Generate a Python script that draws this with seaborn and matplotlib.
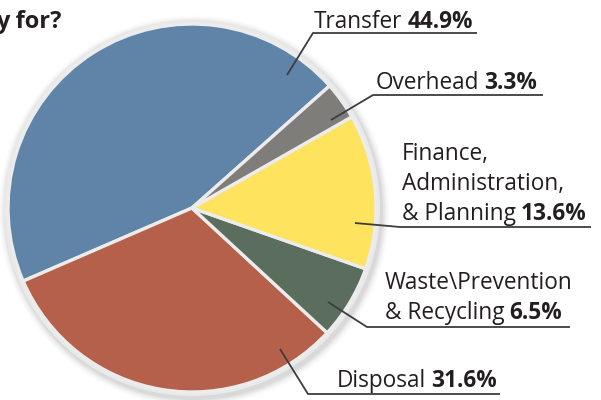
import matplotlib.pyplot as plt
from matplotlib.patches import Circle
import seaborn as sns

# Budget share by program area
labels = ["Transfer", "Disposal", "Waste\\Prevention\n& Recycling",
          "Finance,\nAdministration,\n& Planning", "Overhead"]
shares = [44.9, 31.6, 6.5, 13.6, 3.3]
pct_labels = ["44.9%", "31.6%", "6.5%", "13.6%", "3.3%"]
colors = ["#5f84a8", "#b5604a", "#5b6e5e", "#fde35e", "#7e7d7a"]

sns.set_theme(style="white")
plt.rcParams['font.family'] = ['Open Sans', 'DejaVu Sans']

W, H = 601, 400
fig = plt.figure(figsize=(W / 100, H / 100), dpi=100)
ax = fig.add_axes([0, 0, 1, 1])

def Y(y):
    # pixel row (from top) -> data y
    return H - y

cx, cy, r = 192, Y(208), 184

# soft shadow + light rim
for i, a in enumerate([0.045, 0.04, 0.03, 0.02, 0.015]):
    ax.add_patch(Circle((cx + 2, cy - 3), r + 5 + i * 1.6, color="#000000",
                        alpha=a, lw=0, zorder=0))
ax.add_patch(Circle((cx, cy), r + 4, color="#e9e9e9", lw=0, zorder=1))

wedges, _ = ax.pie(shares, colors=colors, startangle=41.6, center=(cx, cy),
                   radius=r, counterclock=True,
                   wedgeprops=dict(edgecolor="#ececec", linewidth=2.4))
for w in wedges:
    w.set_zorder(2)

ax.set_xlim(0, W)
ax.set_ylim(0, H)
ax.set_axis_off()

txt_color = "#231f20"
line_color = "#3d3d3d"
fs = 16.3

# label placement per wedge: text x, last-line baseline, leader points
place = {
    "Transfer": (314, 28, [(287, 75), (313, 33), (477, 33)]),
    "Overhead": (376, 89, [(331, 120), (373, 95), (543, 95)]),
    "Finance,\nAdministration,\n& Planning": (402, 220, [(355, 223), (400, 227), (591, 227)]),
    "Waste\\Prevention\n& Recycling": (385, 319, [(328, 302), (367, 327), (570, 327)]),
    "Disposal": (337, 387, [(280, 349), (308, 394), (500, 394)]),
}

fig.canvas.draw()
renderer = fig.canvas.get_renderer()
for text, pct in zip(labels, pct_labels):
    tx, ty, pts = place[text]
    xs = [p[0] for p in pts]
    ys = [Y(p[1]) for p in pts]
    ax.plot(xs, ys, color=line_color, lw=1.3, solid_capstyle="butt", zorder=3)
    lines = text.split("\n")
    step = 30
    for k, ln in enumerate(lines):
        yy = ty - (len(lines) - 1 - k) * step
        t = ax.text(tx, Y(yy), ln, fontsize=fs, color=txt_color,
                    ha="left", va="baseline", zorder=4)
    # bold percentage right after the last line
    bb = t.get_window_extent(renderer=renderer)
    x_end = ax.transData.inverted().transform((bb.x1, 0))[0]
    ax.text(x_end + 5, Y(ty), pct, fontsize=fs, color=txt_color,
            fontweight="bold", ha="left", va="baseline", zorder=4)

# cut-off title fragment at the top-left
ax.text(-4, Y(28), "y for?", fontsize=17, fontweight="bold",
        color=txt_color, ha="left", va="baseline")

fig.savefig("out.png", dpi=100)
